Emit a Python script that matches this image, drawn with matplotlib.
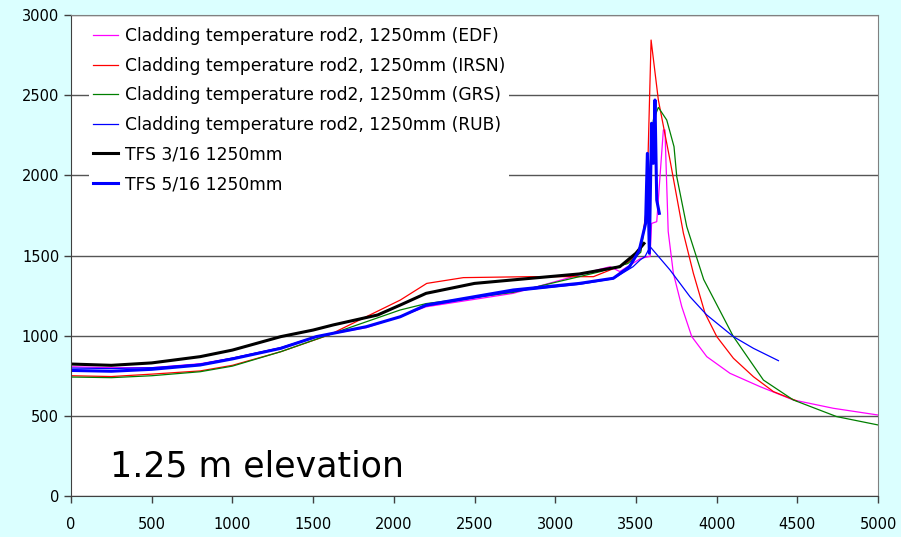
import matplotlib.pyplot as plt

# time [s] and cladding temperature [K]
edf_t = [0, 250, 500, 800, 1000, 1300, 1520, 1830, 2040, 2200, 2740, 3260, 3340, 3400, 3530, 3588,
         3597, 3629, 3670, 3680, 3700, 3732, 3784, 3846, 3939, 4083, 4269, 4475, 4723, 5000]
edf_T = [806, 800, 800, 825, 860, 925, 995, 1050, 1120, 1180, 1264, 1410, 1430, 1400, 1482, 1495,
         1700, 1711, 2283, 2283, 1650, 1389, 1181, 994, 869, 765, 682, 599, 547, 505]

irsn_t = [0, 250, 500, 800, 1000, 1300, 1600, 1894, 2040, 2204, 2431, 2844, 3237, 3443, 3530, 3567,
          3594, 3639, 3711, 3794, 3856, 3928, 4001, 4104, 4228, 4352, 4496]
irsn_T = [750, 745, 760, 780, 815, 900, 1005, 1150, 1222, 1326, 1362, 1368, 1368, 1451, 1530, 1805,
          2844, 2470, 2096, 1640, 1389, 1140, 994, 859, 744, 651, 593]

grs_t = [0, 250, 500, 800, 1000, 1300, 1625, 2039, 2200, 2740, 3278, 3450, 3530, 3570, 3608, 3639,
         3691, 3736, 3753, 3815, 3920, 4104, 4290, 4475, 4744, 5000]
grs_T = [742, 738, 750, 775, 810, 900, 1015, 1160, 1200, 1270, 1399, 1450, 1520, 1800, 2345, 2424,
         2345, 2179, 1992, 1680, 1350, 994, 723, 599, 495, 443]

rub_t = [0, 250, 500, 800, 1000, 1300, 1520, 1830, 2040, 2200, 2740, 3150, 3360, 3482, 3526, 3556,
         3588, 3711, 3835, 3939, 4104, 4228, 4383]
rub_T = [798, 795, 800, 822, 860, 925, 994, 1056, 1118, 1185, 1275, 1320, 1355, 1430, 1472, 1493,
         1555, 1410, 1243, 1129, 994, 921, 844]

tfs3_t = [0, 250, 500, 800, 1000, 1300, 1500, 1625, 1900, 2040, 2200, 2500, 2850, 3150, 3400, 3500, 3550]
tfs3_T = [823, 815, 830, 869, 910, 994, 1035, 1067, 1129, 1191, 1264, 1326, 1358, 1385, 1430, 1514, 1575]

tfs5_t = [0, 250, 500, 800, 1000, 1300, 1520, 1830, 2040, 2200, 2740, 3150, 3360, 3460, 3520, 3560,
          3571, 3583, 3597, 3608, 3618, 3629, 3645]
tfs5_T = [783, 778, 790, 817, 855, 921, 994, 1056, 1118, 1191, 1285, 1326, 1358, 1430, 1530, 1700,
          2137, 1514, 2325, 2075, 2470, 1846, 1763]

bg = '#DBFFFF'
fig = plt.figure(figsize=(9.01, 5.37), dpi=100, facecolor=bg)
ax = fig.add_axes([0.0788, 0.0764, 0.8957, 0.8956])

ax.plot(edf_t, edf_T, color='#FF00FF', lw=0.9, label='Cladding temperature rod2, 1250mm (EDF)')
ax.plot(irsn_t, irsn_T, color='#FF0000', lw=0.9, label='Cladding temperature rod2, 1250mm (IRSN)')
ax.plot(grs_t, grs_T, color='#007F00', lw=0.9, label='Cladding temperature rod2, 1250mm (GRS)')
ax.plot(rub_t, rub_T, color='#0000FF', lw=0.9, label='Cladding temperature rod2, 1250mm (RUB)')
ax.plot(tfs3_t, tfs3_T, color='black', lw=2.2, label='TFS 3/16 1250mm')
ax.plot(tfs5_t, tfs5_T, color='#0000FF', lw=2.2, label='TFS 5/16 1250mm')

ax.set_xlim(0, 5000)
ax.set_ylim(0, 3000)
ax.set_xticks(range(0, 5001, 500))
ax.set_yticks(range(0, 3001, 500))
ax.yaxis.grid(True, color='#555555', lw=1)
ax.set_axisbelow(True)
for s in ax.spines.values():
    s.set_color('#808080')
ax.spines['left'].set_color('#404040')
ax.spines['bottom'].set_color('#404040')
ax.tick_params(direction='out', length=5, width=1, color='#404040', labelsize=10.5)
ax.tick_params(axis='x', pad=10)

ax.text(240, 120, '1.25 m elevation', fontsize=25)

leg = ax.legend(loc='upper left', bbox_to_anchor=(0.012, 1.0), fontsize=12.3, frameon=True,
                fancybox=False, edgecolor='none', facecolor='white', framealpha=1,
                handlelength=1.5, handletextpad=0.4, labelspacing=0.68, borderpad=0.2)

fig.savefig('out.png', dpi=100, facecolor=bg)
